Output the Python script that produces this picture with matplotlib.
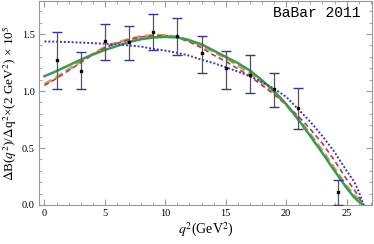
import matplotlib
matplotlib.use("Agg")
import matplotlib.pyplot as plt
from matplotlib.ticker import MultipleLocator

plt.rcParams['font.family'] = ['Liberation Serif', 'DejaVu Serif']
plt.rcParams['mathtext.fontset'] = 'stix'

# BaBar 2011 points (bin centres, central values, error bar ends)
q2_data = [1.0, 3.0, 5.0, 7.0, 9.0, 11.0, 13.0, 15.0, 17.0, 19.0, 21.0, 24.3]
br_data = [1.27, 1.18, 1.44, 1.43, 1.52, 1.485, 1.33, 1.20, 1.145, 1.015, 0.855, 0.115]
br_hi = [1.515, 1.34, 1.59, 1.575, 1.675, 1.645, 1.48, 1.355, 1.315, 1.16, 1.025, 0.22]
br_lo = [1.015, 1.015, 1.27, 1.27, 1.36, 1.32, 1.16, 1.015, 0.98, 0.86, 0.67, 0.0]

# fitted curves
q2_curve = [0, 1, 2, 3, 4, 5, 6, 7, 8, 9, 10, 11, 12, 13, 14, 15, 16, 17, 18,
            19, 20, 21, 22, 23, 24, 25, 25.6, 26, 26.4]
green = [1.13, 1.175, 1.225, 1.275, 1.32, 1.36, 1.395, 1.43, 1.455, 1.47, 1.475,
         1.47, 1.445, 1.41, 1.355, 1.30, 1.245, 1.18, 1.095, 1.0, 0.885, 0.75,
         0.605, 0.455, 0.30, 0.15, 0.07, 0.03, 0.0]
orange = [1.06, 1.12, 1.19, 1.26, 1.325, 1.385, 1.425, 1.455, 1.48, 1.49, 1.49,
          1.475, 1.445, 1.40, 1.345, 1.29, 1.225, 1.155, 1.075, 0.99, 0.88, 0.755,
          0.62, 0.475, 0.32, 0.165, 0.09, 0.045, 0.0]
red = [1.05, 1.11, 1.18, 1.25, 1.32, 1.38, 1.42, 1.45, 1.475, 1.485, 1.485,
       1.47, 1.43, 1.38, 1.315, 1.26, 1.195, 1.13, 1.05, 0.97, 0.88, 0.78,
       0.665, 0.54, 0.39, 0.225, 0.14, 0.07, 0.0]
blue = [1.435, 1.433, 1.43, 1.425, 1.42, 1.415, 1.41, 1.40, 1.39, 1.37, 1.355,
        1.335, 1.31, 1.275, 1.245, 1.21, 1.17, 1.13, 1.08, 1.02, 0.95, 0.84,
        0.73, 0.605, 0.465, 0.30, 0.21, 0.12, 0.0]

fig = plt.figure(figsize=(3.74, 2.44), dpi=100)
ax = fig.add_axes([39 / 374, 39 / 244, 333 / 374, 204 / 244])

ax.plot(q2_curve, orange, color='#c9a15a', lw=2.0, ls=(0, (3, 1.5)), zorder=2)
ax.plot(q2_curve, red, color='#b03a6e', lw=1.2, ls=(0, (3, 2)), zorder=3)
ax.plot(q2_curve, green, color='#3d9a4c', lw=1.8, zorder=4)
ax.plot(q2_curve, blue, color='#3a3aaa', lw=1.4, ls=(0, (1, 1)), zorder=5)

yerr = [[c - l for c, l in zip(br_data, br_lo)], [h - c for c, h in zip(br_data, br_hi)]]
eb = ax.errorbar(q2_data, br_data, yerr=yerr, fmt='s', color='black', ms=2,
                 ecolor='#555555', elinewidth=0.9, capsize=3.5, capthick=1.0,
                 zorder=6)
for cap in eb[1]:
    cap.set_color('#3434a8')
    cap.set_markeredgecolor('#3434a8')

ax.set_xlim(-0.45, 27.1)
ax.set_ylim(0, 1.79)
ax.xaxis.set_major_locator(MultipleLocator(5))
ax.xaxis.set_minor_locator(MultipleLocator(1))
ax.yaxis.set_major_locator(MultipleLocator(0.5))
ax.yaxis.set_minor_locator(MultipleLocator(0.1))
ax.yaxis.set_major_formatter(plt.FormatStrFormatter('%.1f'))
ax.tick_params(which='both', direction='in', top=True, right=True,
               color='#999999', labelsize=7.5, pad=3)
ax.tick_params(which='major', length=4)
ax.tick_params(which='minor', length=2)
for sp in ax.spines.values():
    sp.set_color('#999999')
    sp.set_linewidth(0.8)

ax.set_xlabel(r'$q^2$(GeV$^2$)', fontsize=10, labelpad=2)
ax.set_ylabel(r'$\Delta$B($q^2$)/$\Delta$q$^2$×(2 GeV$^2$) × 10$^5$', fontsize=9.5, labelpad=2)

ax.text(0.965, 0.94, 'BaBar 2011', transform=ax.transAxes, ha='right', va='center',
        family='Liberation Mono', fontsize=10.5)

fig.savefig('out.png', dpi=100)
